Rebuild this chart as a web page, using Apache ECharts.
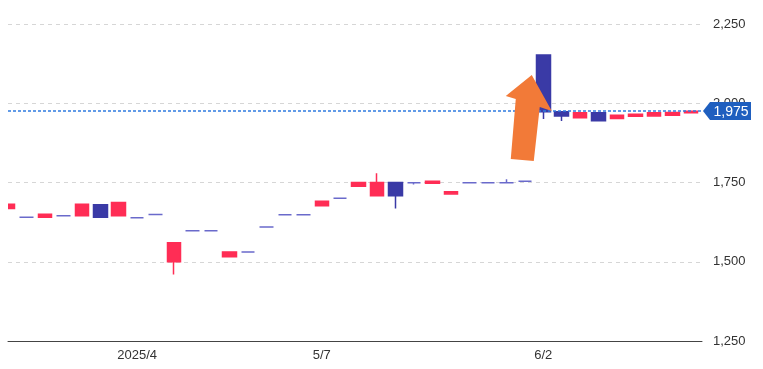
<!DOCTYPE html>
<html><head><meta charset="utf-8">
<script src="https://cdn.jsdelivr.net/npm/echarts@6/dist/echarts.min.js"></script>
<style>html,body{margin:0;padding:0;background:#fff}#c{width:763px;height:369px}</style>
</head><body><div id="c"></div>
<script>
// x labels (one per candle, '' where no label is shown)
const xLabels = ['', '', '', '', '', '', '', '2025/4', '', '',
                 '', '', '', '', '', '', '', '5/7', '', '',
                 '', '', '', '', '', '', '', '', '', '6/2',
                 '', '', '', '', '', '', '', ''];
const opens  = [1668,1640,1640,1645,1645,1680,1645,1639,1649,1500,1598,1598,1516,1531,1610,1648,1648,1677,1700,1738,1708,1750,1749,1748,1714,1749,1749,1749,1754,2152,1973,1954,1970,1952,1959,1960,1962,1970];
const closes = [1681,1640,1650,1645,1681,1640,1687,1639,1649,1560,1598,1598,1531,1531,1610,1648,1648,1691,1700,1750,1750,1708,1749,1754,1721,1749,1749,1749,1754,1973,1960,1970,1945,1962,1965,1970,1971,1975];
const lows   = [1668,1640,1640,1645,1645,1640,1645,1639,1649,1460,1598,1598,1516,1531,1610,1648,1648,1677,1700,1738,1708,1668,1744,1748,1714,1749,1749,1749,1754,1950,1944,1954,1945,1952,1959,1960,1962,1970];
const highs  = [1681,1640,1650,1645,1681,1680,1687,1639,1649,1560,1598,1598,1531,1531,1610,1648,1648,1691,1700,1750,1779,1750,1749,1754,1721,1749,1749,1760,1754,2152,1973,1970,1970,1962,1965,1970,1971,1975];
const yTickValues = [1250, 1500, 1750, 2000, 2250];
const lastPrice = 1975;
const highlightIndex = 29;

const data = opens.map((o, i) => [i, o, closes[i], lows[i], highs[i]]);
const labelIdx = xLabels.map((t, i) => t ? i : -1).filter(i => i >= 0);

const chart = echarts.init(document.getElementById('c'), null, {renderer: 'canvas'});
const FONT = 'Liberation Sans, Arial, sans-serif';
const LAST_BLUE = '#2f7be0';
chart.setOption({
  animation: false,
  backgroundColor: '#fff',
  grid: {left: 8, right: 61, top: 24, bottom: 28, containLabel: false},
  xAxis: {
    type: 'value', min: 0, max: 37.6,
    axisLine: {show: true, onZero: false, lineStyle: {color: '#444', width: 1}},
    axisTick: {show: false},
    splitLine: {show: false},
    axisLabel: {
      customValues: labelIdx, color: '#333', fontSize: 13, fontFamily: FONT, margin: 8,
      formatter: v => xLabels[Math.round(v)] || ''
    }
  },
  yAxis: {
    type: 'value', position: 'right',
    min: yTickValues[0], max: yTickValues[yTickValues.length - 1], interval: 250,
    axisLine: {show: false}, axisTick: {show: false},
    splitLine: {show: true, lineStyle: {color: '#d6d6d6', type: [4, 4], width: 1}},
    axisLabel: {color: '#333', fontSize: 13, fontFamily: FONT, margin: 11,
      formatter: v => v.toLocaleString('en-US')}
  },
  series: [{
    type: 'candlestick',
    data: data,
    encode: {x: 0, y: [1, 2, 3, 4]},
    barWidth: 14,
    clip: true,
    itemStyle: {
      color: '#ff2d55', color0: '#3a3aa6',
      borderColor: '#ff2d55', borderColor0: '#3a3aa6',
      borderColorDoji: '#6a6acb', borderWidth: 1.5
    }
  }]
});

// Annotations positioned through the chart's own scales
const py = Math.round(chart.convertToPixel({yAxisIndex: 0}, lastPrice));
const pxLeft = chart.convertToPixel({xAxisIndex: 0}, 0);
const pxRight = chart.convertToPixel({xAxisIndex: 0}, 37.6);
const pyBottom = chart.convertToPixel({yAxisIndex: 0}, yTickValues[0]);
const anchor = chart.convertToPixel({seriesIndex: 0}, [highlightIndex, closes[highlightIndex]]);
chart.setOption({
  graphic: [
    { // clip the half candle sticking out left of the plot
      type: 'rect', z: 50, x: 0, y: 0,
      shape: {width: pxLeft, height: pyBottom - 1},
      style: {fill: '#fff'}
    },
    { // last price line
      type: 'line', z: 40,
      shape: {x1: pxLeft, y1: py, x2: pxRight, y2: py},
      style: {stroke: LAST_BLUE, lineWidth: 1.5, lineDash: [3, 2]}
    },
    {
      type: 'polygon', z: 100,
      x: pxRight, y: py,
      shape: {points: [[1, 0], [8, -9], [49, -9], [49, 9], [8, 9]]},
      style: {fill: '#1f5fbf'}
    },
    {
      type: 'text', z: 101,
      x: pxRight + 29, y: py + 1,
      style: {text: lastPrice.toLocaleString('en-US'), fill: '#fff', font: '14px ' + FONT,
        align: 'center', verticalAlign: 'middle'}
    },
    {
      type: 'polygon', z: 100,
      x: anchor[0], y: anchor[1],
      shape: {points: [[-11.5, -36.7], [8.5, -0.7], [-3.5, -4.7], [-9.5, 49.3], [-32.5, 47.3], [-27.5, -12.7], [-37.5, -15.7]]},
      style: {fill: '#f27a38'}
    }
  ]
});
</script>
</body></html>
